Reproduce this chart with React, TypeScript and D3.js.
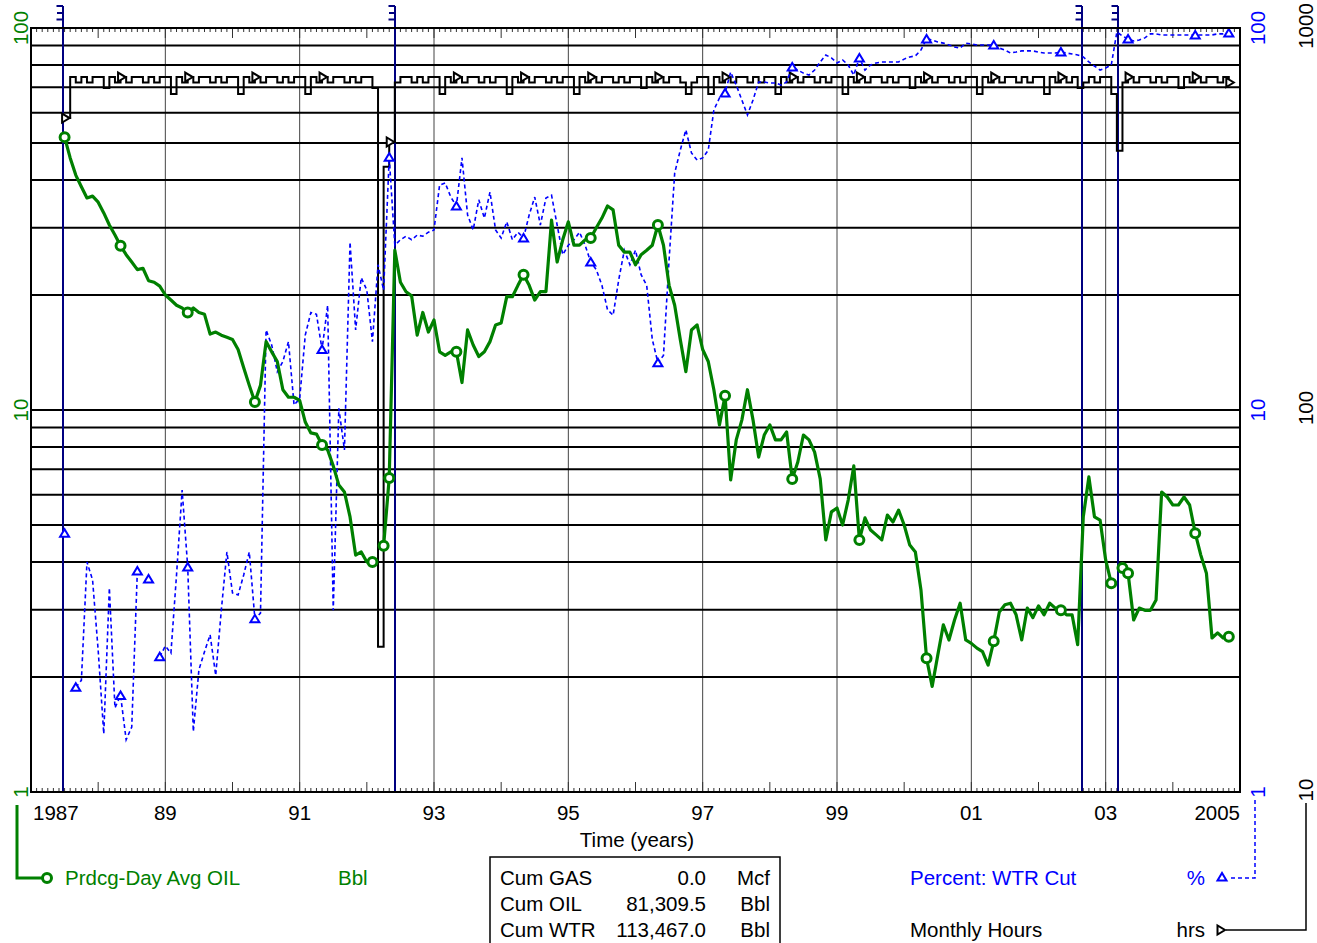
import React from 'react';
import * as d3 from 'd3';

// Monthly records start July 1987 (index 0) and end November 2004.
const START_YEAR = 1987;
const START_MONTH = 6; // 0-based: July

// Monthly Hours (hrs) - right outer axis 10..1000
const hours: number[] = [
  581, 744, 720, 744, 720, 744,
  744, 696, 744, 720, 744, 720, 744, 744, 720, 744, 720, 744,
  744, 672, 744, 720, 744, 720, 744, 744, 720, 744, 720, 744,
  744, 672, 744, 720, 744, 720, 744, 744, 720, 744, 720, 744,
  744, 672, 744, 720, 744, 720, 744, 744, 720, 744, 720, 744,
  744, 696, 24, 433, 503, 720, 744, 744, 720, 744, 720, 744,
  744, 672, 744, 720, 744, 720, 744, 744, 720, 744, 720, 744,
  744, 672, 744, 720, 744, 720, 744, 744, 720, 744, 720, 744,
  744, 672, 744, 720, 744, 720, 744, 744, 720, 744, 720, 744,
  744, 696, 744, 720, 744, 720, 744, 744, 720, 672, 720, 744,
  744, 672, 744, 720, 744, 720, 744, 744, 720, 744, 720, 744,
  744, 672, 744, 720, 744, 720, 744, 744, 720, 744, 720, 744,
  744, 672, 744, 720, 744, 720, 744, 744, 720, 744, 720, 744,
  744, 696, 744, 720, 744, 720, 744, 744, 720, 744, 720, 744,
  744, 672, 744, 720, 744, 720, 744, 744, 720, 744, 720, 744,
  744, 672, 744, 720, 744, 720, 744, 696, 720, 744, 720, 744,
  744, 672, 477, 720, 744, 720, 744, 744, 720, 744, 720, 744,
  744, 696, 744, 720, 744, 720, 744, 744, 720, 744, 720,
];

// Prdcg-Day Avg OIL (Bbl) - left axis 1..100
const oil: (number | null)[] = [
  51.8, 45.7, 41.2, 38.4, 35.9, 36.3,
  35.0, 32.8, 30.5, 28.7, 26.9, 25.5, 24.4, 23.3, 23.5, 21.8, 21.6, 21.1,
  20.0, 19.4, 18.8, 18.5, 18.0, 18.5, 18.0, 17.8, 15.8, 16.0, 15.7, 15.5,
  15.3, 14.4, 12.9, 11.6, 10.5, 11.6, 15.1, 14.2, 13.4, 11.3, 10.8, 10.8,
  10.6, 9.30, 8.71, 8.65, 8.10, 7.86, 7.14, 6.36, 6.10, 5.25, 4.17, 4.25,
  4.00, 4.00, null, 4.41, 6.64, 26.2, 21.6, 20.4, 19.9, 15.7, 18.0, 16.0,
  17.2, 14.2, 13.9, 14.2, 14.2, 11.8, 16.2, 14.8, 13.8, 14.2, 15.1, 16.7,
  16.9, 19.8, 19.8, 21.2, 22.6, 21.2, 19.4, 20.4, 20.4, 31.4, 24.4, 27.9,
  31.1, 27.0, 27.0, 27.9, 28.2, 30.0, 31.8, 34.2, 33.4, 27.0, 25.9, 25.9,
  24.0, 25.5, 26.2, 27.0, 30.5, 27.0, 21.2, 18.8, 15.3, 12.6, 16.2, 16.7,
  14.4, 13.4, 11.3, 9.14, 10.9, 6.56, 8.35, 9.41, 11.3, 9.41, 7.53, 8.60,
  9.14, 8.35, 8.35, 8.76, 6.60, 7.31, 8.60, 8.35, 7.76, 6.60, 4.57, 5.41,
  5.54, 5.00, 5.81, 7.14, 4.57, 5.22, 4.85, 4.71, 4.57, 5.31, 5.09, 5.47,
  5.00, 4.43, 4.25, 3.38, 2.24, 1.89, 2.28, 2.74, 2.50, 2.82, 3.12, 2.50,
  2.45, 2.38, 2.33, 2.15, 2.48, 2.96, 3.09, 3.12, 2.91, 2.50, 3.03, 2.86,
  3.07, 2.91, 3.12, 3.03, 2.99, 2.91, 2.91, 2.43, 5.25, 6.68, 5.25, 5.15,
  4.05, 3.52, null, 3.86, 3.74, 2.82, 3.03, 2.99, 2.99, 3.18, 6.10, 5.92,
  5.64, 5.64, 5.92, 5.64, 4.76, 4.17, 3.74, 2.53, 2.61, 2.53, 2.55,
];

// Percent: WTR Cut (%) - right inner axis 1..100
const wtrCut: (number | null)[] = [
  4.76, null, 1.88, 1.96, 4.00, 3.59,
  2.35, 1.42, 3.42, 1.66, 1.79, 1.37, 1.48, 3.79, null, 3.61, null, 2.26,
  2.41, 2.31, 3.70, 6.17, 3.88, 1.44, 2.09, 2.33, 2.58, 2.02, 2.99, 4.25,
  3.32, 3.28, 3.70, 4.25, 2.84, 2.94, 16.2, 14.8, 12.6, 13.4, 15.1, 10.3,
  10.7, 15.7, 18.0, 17.8, 14.4, 18.8, 2.99, 10.1, 7.86, 27.5, 16.2, 22.2,
  20.6, 15.1, 24.0, 20.6, 45.9, 27.0, 27.9, 28.5, 27.9, 28.7, 28.5, 29.2,
  29.6, 38.8, 39.3, 36.1, 34.2, 45.7, 32.4, 29.6, 35.5, 31.8, 37.2, 29.6,
  28.2, 31.1, 27.9, 29.2, 28.2, 32.4, 36.1, 30.5, 35.9, 36.5, 30.5, 25.5,
  27.0, 27.9, 29.2, 27.0, 24.4, 23.3, 21.2, 18.3, 17.7, 21.9, 26.2, 24.0,
  26.2, 22.6, 21.2, 15.3, 13.3, 13.9, 24.7, 41.7, 47.9, 54.1, 47.1, 45.1,
  45.7, 47.9, 61.0, 65.6, 67.6, 76.7, 70.9, 64.8, 59.2, 64.8, 72.2, 72.2,
  71.8, 71.8, 70.9, 72.2, 79.1, 77.6, 76.2, 75.3, 77.6, 81.5, 85.0, 83.5,
  81.0, 82.5, 80.0, 75.3, 83.5, 77.6, 80.0, 81.0, 81.5, 81.5, 81.5, 81.5,
  82.9, 84.0, 84.5, 87.6, 93.6, 93.0, 91.9, 91.3, 90.3, 89.2, 88.6, 91.3,
  90.8, 90.3, 90.3, 90.3, 90.3, 88.6, 87.6, 86.0, 86.5, 87.1, 87.1, 87.1,
  86.5, 86.0, 86.0, 86.0, 86.5, 86.0, 85.5, 85.0, 84.0, 81.5, 79.5, 77.6,
  78.6, 80.0, 97.6, 95.3, 93.6, 92.5, 93.0, 94.2, 96.5, 96.5, 95.9, 95.9,
  95.9, 95.9, 95.9, 95.9, 95.9, 95.9, 95.9, 95.9, 96.5, 96.5, 97.0,
];

// Event markers (decimal years)
const eventDates = [1987.476, 1992.419, 2002.647, 2003.183];

const xTickYears = [1987, 1989, 1991, 1993, 1995, 1997, 1999, 2001, 2003, 2005];
const xTickLabels = ['1987', '89', '91', '93', '95', '97', '99', '01', '03', '2005'];
const leftTicks = [1, 10, 100];
const wtrTicks = [1, 10, 100];
const hoursTicks = [10, 100, 1000];
const cumLabels = ['Cum GAS', 'Cum OIL', 'Cum WTR'];
const cumValues = ['0.0', '81,309.5', '113,467.0'];
const cumUnits = ['Mcf', 'Bbl', 'Bbl'];

const GREEN = '#008000';
const BLUE = '#0000ff';
const NAVY = '#000080';
const FONT = '"Liberation Sans", Arial, sans-serif';
const FS = 20.5;

const L = 31, R = 1240, T = 28, B = 792;

const x = d3.scaleLinear().domain([1987, 2005]).range([L, R]);
const yL = d3.scaleLog().domain([1, 100]).range([B, T]);
const yW = d3.scaleLog().domain([1, 100]).range([B, T]);
const yH = d3.scaleLog().domain([10, 1000]).range([B, T]);

const dateOf = (i: number) => START_YEAR + (START_MONTH + i) / 12;
const monthOf = (i: number) => (START_MONTH + i) % 12;

function markerIdx(arr: (number | null)[]): number[] {
  const defined = arr.map((v, i) => (v != null ? i : -1)).filter((i) => i >= 0);
  const first = defined[0];
  const last = defined[defined.length - 1];
  return defined.filter(
    (i) =>
      i === first ||
      i === last ||
      arr[i - 1] == null ||
      arr[i + 1] == null ||
      monthOf(i) === 4
  );
}

export default function App() {
  const gridVals: number[] = [];
  [1, 10].forEach((d) => {
    for (let m = 1; m <= 9; m++) gridVals.push(d * m);
  });
  const hGrid = gridVals.filter((v) => v > 1);

  const vGrid = [1989, 1991, 1993, 1995, 1997, 1999, 2001, 2003];
  const monthTicks = d3.range(0, 18 * 12 + 1).map((k) => 1987 + k / 12);

  const oilLine = d3
    .line<number | null>()
    .defined((d) => d != null)
    .x((_, i) => x(dateOf(i)))
    .y((d) => yL(d as number));
  const wtrLine = d3
    .line<number | null>()
    .defined((d) => d != null)
    .x((_, i) => x(dateOf(i)))
    .y((d) => yW(d as number));
  const hoursLine = d3
    .line<number>()
    .curve(d3.curveStepAfter)
    .x((_, i) => x(dateOf(i)))
    .y((d) => yH(d));

  const tri = (cx: number, cy: number) =>
    `M${cx - 4.5},${cy + 3.5}L${cx + 4.5},${cy + 3.5}L${cx},${cy - 4}Z`;
  const triR = (cx: number, cy: number) =>
    `M${cx - 3.5},${cy - 4.5}L${cx - 3.5},${cy + 4.5}L${cx + 4},${cy}Z`;

  return (
    <svg
      width={1317}
      height={943}
      style={{ position: 'absolute', left: 0, top: 0, display: 'block', background: '#fff' }}
      fontFamily={FONT}
    >
      <rect x={0} y={0} width={1317} height={943} fill="#fff" />
      {/* vertical grid */}
      {vGrid.map((v) => (
        <line key={'vg' + v} x1={x(v)} x2={x(v)} y1={T} y2={B} stroke="#444" strokeWidth={1} />
      ))}
      {/* horizontal grid */}
      {hGrid.map((v) => (
        <line key={'hg' + v} x1={L} x2={R} y1={yL(v)} y2={yL(v)} stroke="#000" strokeWidth={2} />
      ))}
      {/* month / year ticks */}
      {monthTicks.map((t, k) => {
        const len = k % 12 === 0 ? 10 : 4;
        return (
          <g key={'mt' + k}>
            <line x1={x(t)} x2={x(t)} y1={T} y2={T + len} stroke="#333" strokeWidth={1} />
            <line x1={x(t)} x2={x(t)} y1={B} y2={B - len} stroke="#333" strokeWidth={1} />
          </g>
        );
      })}
      {/* event lines */}
      {eventDates.map((d, i) => {
        const ex = Math.round(x(d));
        return (
          <g key={'ev' + i}>
            <line x1={ex} x2={ex} y1={6} y2={B} stroke={NAVY} strokeWidth={2} />
            <path
              d={`M${ex - 6.5},6H${ex}M${ex - 6},13H${ex}M${ex - 6.5},19.5H${ex}`}
              stroke={NAVY}
              strokeWidth={2}
              fill="none"
            />
          </g>
        );
      })}
      {/* hours step line */}
      <path d={hoursLine(hours) || ''} fill="none" stroke="#000" strokeWidth={2} />
      {markerIdx(hours).map((i) => (
        <path key={'hm' + i} d={triR(x(dateOf(i)) + 1, yH(hours[i]))} fill="#fff" stroke="#000" strokeWidth={2} />
      ))}
      {/* water cut */}
      <path d={wtrLine(wtrCut) || ''} fill="none" stroke={BLUE} strokeWidth={1.6} strokeDasharray="4,3" />
      {markerIdx(wtrCut).map((i) => (
        <path key={'wm' + i} d={tri(x(dateOf(i)), yW(wtrCut[i] as number))} fill="#fff" stroke={BLUE} strokeWidth={2} />
      ))}
      {/* oil */}
      <path d={oilLine(oil) || ''} fill="none" stroke={GREEN} strokeWidth={3.2} strokeLinejoin="round" />
      {markerIdx(oil).map((i) => (
        <circle key={'om' + i} cx={x(dateOf(i))} cy={yL(oil[i] as number)} r={4.5} fill="#fff" stroke={GREEN} strokeWidth={3} />
      ))}
      {/* frame */}
      <rect x={L} y={T} width={R - L} height={B - T} fill="none" stroke="#000" strokeWidth={2} />

      {/* axis labels */}
      {leftTicks.map((v) => (
        <text key={'lt' + v} transform={`translate(28,${yL(v)}) rotate(-90)`} textAnchor="middle" fontSize={FS} fill={GREEN}>
          {v}
        </text>
      ))}
      {wtrTicks.map((v) => (
        <text key={'wt' + v} transform={`translate(1265,${yW(v)}) rotate(-90)`} textAnchor="middle" fontSize={FS} fill={BLUE}>
          {v}
        </text>
      ))}
      {hoursTicks.map((v) => (
        <text key={'ht' + v} transform={`translate(1313,${yH(v) - 2}) rotate(-90)`} textAnchor="middle" fontSize={FS} fill="#000">
          {v}
        </text>
      ))}
      {xTickYears.map((v, i) => (
        <text
          key={'xt' + v}
          x={i === 0 ? L + 2 : x(v)}
          y={820}
          fontSize={FS}
          textAnchor={i === 0 ? 'start' : i === xTickYears.length - 1 ? 'end' : 'middle'}
          fill="#000"
        >
          {xTickLabels[i]}
        </text>
      ))}
      <text x={637} y={847} fontSize={FS} textAnchor="middle" fill="#000">
        Time (years)
      </text>

      {/* legend: oil */}
      <path d="M17,805V878H43" fill="none" stroke={GREEN} strokeWidth={3} />
      <circle cx={47} cy={878} r={4.5} fill="#fff" stroke={GREEN} strokeWidth={3} />
      <text x={65} y={885} fontSize={FS} fill={GREEN}>Prdcg-Day Avg OIL</text>
      <text x={338} y={885} fontSize={FS} fill={GREEN}>Bbl</text>

      {/* cum box */}
      <rect x={490} y={857} width={290} height={100} fill="none" stroke="#000" strokeWidth={1.5} />
      {cumLabels.map((c, i) => (
        <g key={'cum' + i}>
          <text x={500} y={885 + i * 26} fontSize={FS} fill="#000">{c}</text>
          <text x={706} y={885 + i * 26} fontSize={FS} textAnchor="end" fill="#000">{cumValues[i]}</text>
          <text x={770} y={885 + i * 26} fontSize={FS} textAnchor="end" fill="#000">{cumUnits[i]}</text>
        </g>
      ))}

      {/* legend: water cut */}
      <text x={910} y={885} fontSize={FS} fill={BLUE}>Percent: WTR Cut</text>
      <text x={1205} y={885} fontSize={FS} textAnchor="end" fill={BLUE}>%</text>
      <path d={tri(1222, 877)} fill="#fff" stroke={BLUE} strokeWidth={2} />
      <path d="M1231,878H1255V800" fill="none" stroke={BLUE} strokeWidth={1.5} strokeDasharray="4,3" />

      {/* legend: hours */}
      <text x={910} y={937} fontSize={FS} fill="#000">Monthly Hours</text>
      <text x={1205} y={937} fontSize={FS} textAnchor="end" fill="#000">hrs</text>
      <path d={triR(1221, 930)} fill="#fff" stroke="#000" strokeWidth={2} />
      <path d="M1226,930H1306V803" fill="none" stroke="#000" strokeWidth={1.5} />
    </svg>
  );
}
